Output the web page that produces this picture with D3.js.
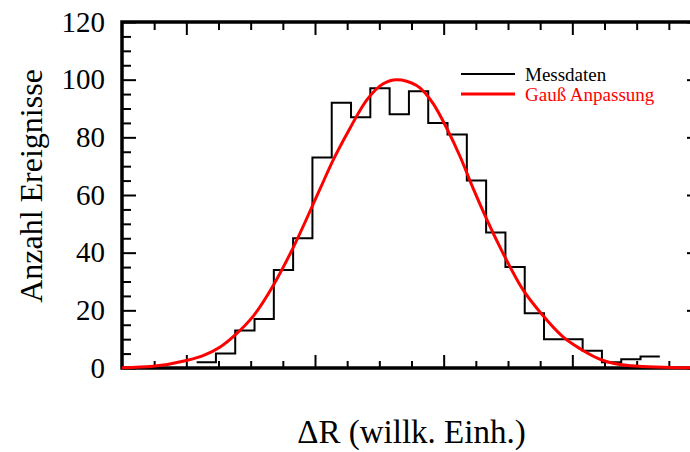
<!DOCTYPE html>
<html>
<head>
<meta charset="utf-8">
<script src="https://cdn.jsdelivr.net/npm/d3@7"></script>
<style>
  body { margin: 0; background: #fff; }
  svg { display: block; font-family: "Liberation Serif", "DejaVu Serif", serif; }
</style>
</head>
<body>
<div id="chart"></div>
<script>
// histogram: left edge of each bin and its count
const binLo = [1.08, 1.23, 1.38, 1.53, 1.68, 1.83, 1.98, 2.13, 2.28, 2.43, 2.58, 2.73,
  2.88, 3.03, 3.18, 3.33, 3.48, 3.63, 3.78, 3.93, 4.08, 4.23, 4.38, 4.53];
const binWidth = 0.15;
const counts = [2, 5, 13, 17, 34, 45, 73, 92, 87, 97, 88, 96,
  85, 81, 65, 47, 35, 19, 10, 10, 6, 2, 3, 4];

// fitted gaussian, points
const fitX = [0.5, 0.74, 1.0, 1.13, 1.26, 1.38, 1.52, 1.68, 1.82, 2.04, 2.14, 2.27, 2.4,
  2.53, 2.635, 2.79, 2.92, 3.02, 3.13, 3.23, 3.45, 3.62, 3.76, 3.93, 4.06, 4.24, 4.45, 4.91, 5.0];
const fitY = [0.1, 0.6, 2.6, 4.3, 7.2, 11.5, 18, 29, 40.8, 62.2, 72, 83, 92.8,
  98.6, 100, 98, 91.6, 83.5, 73.1, 62.2, 40.8, 26.9, 18.8, 10.7, 6.7, 2.6, 0.8, 0.05, 0];

const xMajor = [1, 2, 3, 4];
const xMinor = [0.75, 1.25, 1.5, 1.75, 2.25, 2.5, 2.75, 3.25, 3.5, 3.75, 4.25, 4.5, 4.75];
const yMajor = [0, 20, 40, 60, 80, 100, 120];
const yMinor = d3.range(5, 120, 5).filter(v => v % 20 !== 0);

const seriesNames = ['Messdaten', 'Gauß Anpassung'];
const seriesColors = ['#000', '#f00'];

const width = 690, height = 452;
const plot = { left: 122, right: 701, top: 22, bottom: 368 };

const x = d3.scaleLinear().domain([0.5, 5.0]).range([plot.left, plot.right]);
const y = d3.scaleLinear().domain([0, 120]).range([plot.bottom, plot.top]);

const svg = d3.select('#chart').append('svg')
  .attr('width', width)
  .attr('height', height);

// ticks, all pointing into the plot
function ticks(axis, values, size, transform) {
  const g = svg.append('g')
    .attr('transform', transform)
    .call(axis.tickValues(values).tickSize(size).tickFormat(''));
  g.select('.domain').remove();
  g.selectAll('line').attr('stroke', '#000').attr('stroke-width', 2);
  return g;
}

ticks(d3.axisRight(y), yMajor, 14, `translate(${plot.left},0)`);
ticks(d3.axisRight(y), yMinor, 9, `translate(${plot.left},0)`);
ticks(d3.axisLeft(y), yMajor, 14, `translate(${plot.right},0)`);
ticks(d3.axisLeft(y), yMinor, 9, `translate(${plot.right},0)`);
ticks(d3.axisTop(x), xMajor, 13, `translate(0,${plot.bottom})`);
ticks(d3.axisTop(x), xMinor, 7, `translate(0,${plot.bottom})`);
ticks(d3.axisBottom(x), xMajor, 13, `translate(0,${plot.top})`);
ticks(d3.axisBottom(x), xMinor, 8, `translate(0,${plot.top})`);

// y tick labels
const yLab = svg.append('g')
  .attr('transform', `translate(${plot.left},0)`)
  .call(d3.axisLeft(y).tickValues(yMajor).tickSize(0).tickPadding(17).tickFormat(d3.format('d')));
yLab.select('.domain').remove();
yLab.selectAll('text')
  .attr('font-family', '"Liberation Serif", serif')
  .attr('font-size', 29)
  .attr('fill', '#000');

// frame
svg.append('rect')
  .attr('x', plot.left)
  .attr('y', plot.top)
  .attr('width', plot.right - plot.left)
  .attr('height', plot.bottom - plot.top)
  .attr('fill', 'none')
  .attr('stroke', '#000')
  .attr('stroke-width', 3.5);

// histogram as step line
const steps = binLo.map((b, i) => [b, counts[i]]);
steps.push([binLo[binLo.length - 1] + binWidth, counts[counts.length - 1]]);

svg.append('path')
  .datum(steps)
  .attr('fill', 'none')
  .attr('stroke', seriesColors[0])
  .attr('stroke-width', 2)
  .attr('d', d3.line()
    .x(d => x(d[0]))
    .y(d => y(d[1]))
    .curve(d3.curveStepAfter));

// gauss fit
svg.append('path')
  .datum(fitX.map((v, i) => [v, fitY[i]]))
  .attr('fill', 'none')
  .attr('stroke', seriesColors[1])
  .attr('stroke-width', 3)
  .attr('d', d3.line()
    .x(d => x(d[0]))
    .y(d => y(d[1]))
    .curve(d3.curveMonotoneX));

// legend
const legend = svg.append('g').attr('transform', 'translate(461,74)');
seriesNames.forEach((name, i) => {
  const row = legend.append('g').attr('transform', `translate(0,${i * 20})`);
  row.append('line')
    .attr('x1', 0).attr('x2', 54)
    .attr('stroke', seriesColors[i])
    .attr('stroke-width', i === 0 ? 2 : 3);
  row.append('text')
    .attr('x', 64)
    .attr('y', 6.5)
    .attr('font-size', 19)
    .attr('fill', seriesColors[i])
    .text(name);
});

// axis titles
svg.append('text')
  .attr('x', (plot.left + plot.right) / 2)
  .attr('y', 443)
  .attr('text-anchor', 'middle')
  .attr('font-size', 33)
  .text('ΔR (willk. Einh.)');

svg.append('text')
  .attr('transform', 'translate(42,186) rotate(-90)')
  .attr('text-anchor', 'middle')
  .attr('font-size', 32)
  .text('Anzahl Ereignisse');
</script>
</body>
</html>
